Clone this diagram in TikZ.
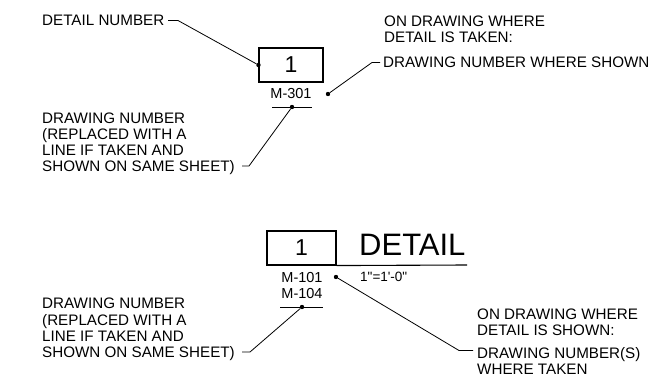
\documentclass[tikz,border=0pt]{standalone}
\usepackage{fontspec}
\setmainfont{Liberation Sans}
\newfontfamily\plainfont{Liberation Sans}[Ligatures=TeXOff]
\begin{document}
\begin{tikzpicture}[x=1pt,y=-1pt,
  lbl/.style={font=\fontsize{15.2}{16}\selectfont, inner sep=0pt, anchor=north west, align=left},
  num/.style={font=\fontsize{14.5}{16}\selectfont, inner sep=0pt, align=center},
  lead/.style={line width=0.8pt},
  dotm/.style={circle, fill, inner sep=0pt, minimum size=4.4pt},
  boxline/.style={line width=1.1pt},
  detbox/.style={draw, boxline, inner sep=0pt, font=\fontsize{23}{23}\selectfont}]
\useasboundingbox (0,0) rectangle (654,380);

% ---------- top symbol ----------
\node[detbox, minimum width=64pt, minimum height=34pt] (b1) at (291,65) {1};
\node[dotm] (d1) at (b1.west) {};
\node[num, anchor=north] (m301) at (291,88.5) {M-301};
\coordinate (u1a) at (272,107);
\coordinate (u1b) at (312,107);
\draw[lead] (u1a) -- (u1b);
\node[dotm] (d2) at (292,107) {};
\node[dotm] (d3) at (328,94) {};

\node[lbl] (t1) at (42,15) {DETAIL NUMBER};
\coordinate (l1a) at (168,20.5);
\coordinate (l1b) at (178,20.5);
\draw[lead] (l1a) -- (l1b) -- (d1);

\node[lbl] (t2) at (384,15.5) {ON DRAWING WHERE\\DETAIL IS TAKEN:};
\node[lbl] (t3) at (383,57) {DRAWING NUMBER WHERE SHOWN};
\coordinate (l3a) at (380,62.5);
\coordinate (l3b) at (372,62.5);
\draw[lead] (l3a) -- (l3b) -- (d3);

\node[lbl, font=\fontsize{15.2}{15.8}\selectfont] (t4) at (42,113) {DRAWING NUMBER\\(REPLACED WITH A\\LINE IF TAKEN AND\\SHOWN ON SAME SHEET)};
\coordinate (l4a) at (242,166);
\coordinate (l4b) at (249,166);
\draw[lead] (l4a) -- (l4b) -- (d2);

% ---------- bottom symbol ----------
\node[detbox, minimum width=69pt, minimum height=34pt] (b2) at (301.5,248) {1};
\coordinate (r2) at (467,265);
\draw[boxline] (b2.south east) -- (r2);
\node[inner sep=0pt, anchor=base west, font=\fontsize{31}{31}\selectfont] (det) at (359,255) {DETAIL};
\node[inner sep=0pt, anchor=base west, font=\plainfont\fontsize{13.5}{14}\selectfont] (scl) at (360,281) {1"=1'-0"};
\node[num, anchor=north, font=\fontsize{14.5}{16.2}\selectfont] (m101) at (302,272) {M-101\\M-104};
\coordinate (u2a) at (280,307);
\coordinate (u2b) at (323,307);
\draw[lead] (u2a) -- (u2b);
\node[dotm] (d4) at (302,307) {};
\node[dotm] (d5) at (336,277) {};

\node[lbl, font=\fontsize{15.2}{16.2}\selectfont] (t5) at (42,298) {DRAWING NUMBER\\(REPLACED WITH A\\LINE IF TAKEN AND\\SHOWN ON SAME SHEET)};
\coordinate (l5a) at (242,352);
\coordinate (l5b) at (250,352);
\draw[lead] (l5a) -- (l5b) -- (d4);

\node[lbl] (t6) at (477,309) {ON DRAWING WHERE\\DETAIL IS SHOWN:};
\node[lbl, font=\fontsize{15.2}{16.5}\selectfont] (t7) at (477,347) {DRAWING NUMBER(S)\\WHERE TAKEN};
\coordinate (l7a) at (473,350.5);
\coordinate (l7b) at (459,350.5);
\draw[lead] (l7a) -- (l7b) -- (d5);
\end{tikzpicture}
\end{document}
